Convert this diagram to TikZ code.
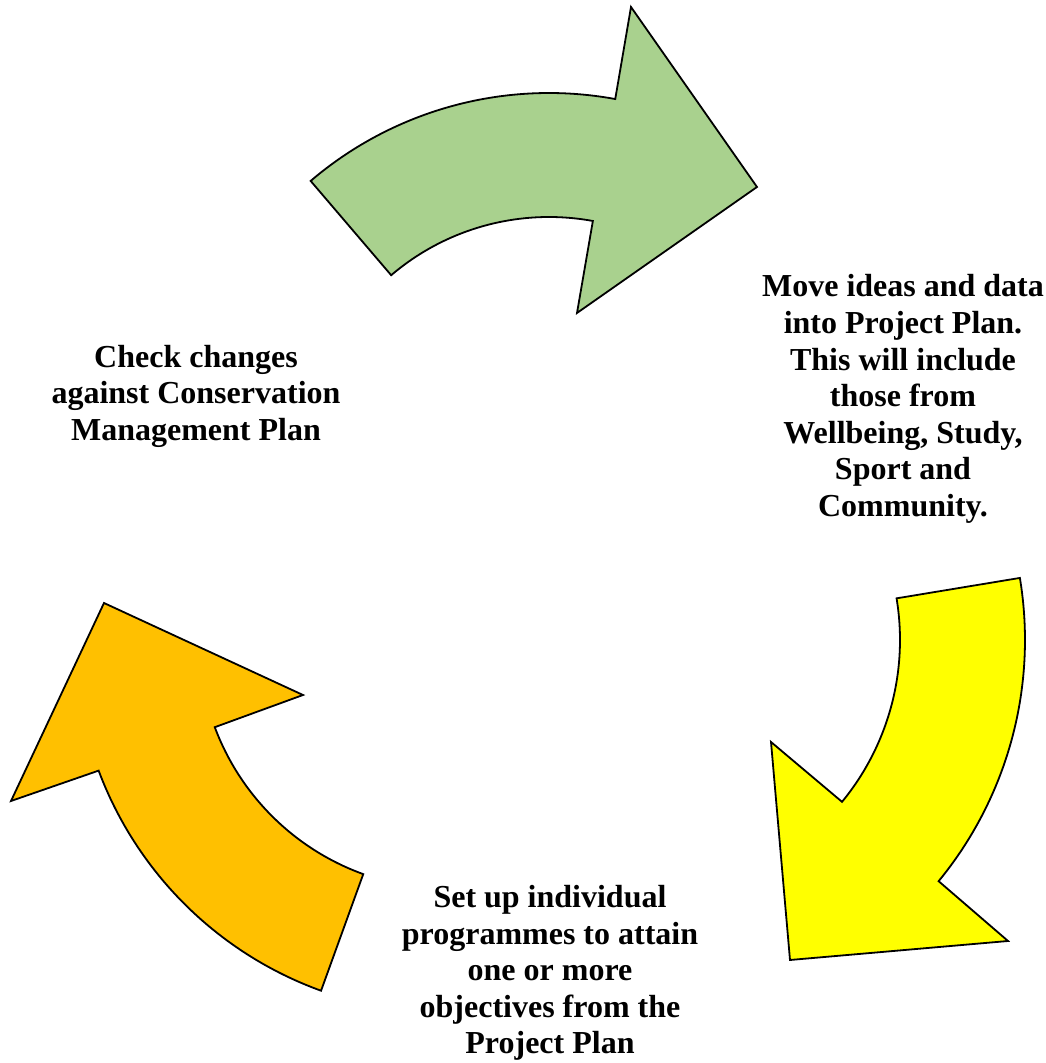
\documentclass[tikz,border=0pt]{standalone}
\usepackage{fontspec}
\setmainfont{Liberation Serif}
\definecolor{arrgreen}{HTML}{A9D18E}
\definecolor{arryellow}{HTML}{FFFF00}
\definecolor{arrorange}{HTML}{FFC000}
\begin{document}
\begin{tikzpicture}[x=1pt,y=1pt,
  arrowshape/.style={draw=black, line width=1.8pt, line join=miter},
  txt/.style={font=\fontsize{32}{36.6}\selectfont\bfseries, align=center, inner sep=0pt, anchor=north}]
\useasboundingbox (0,0) rectangle (1046,1063);
% centres of the three circular arrows
\coordinate (cg) at (549,603);
\coordinate (cy) at (645,423);
\coordinate (co) at (448,423);
% green arrow
\draw[arrowshape, fill=arrgreen] ([shift={(cg)}]130.5:367) arc[start angle=130.5, end angle=79.6, radius=367]
  -- (631,1056) -- (757,876) -- (577,750)
  -- ([shift={(cg)}]79.6:243) arc[start angle=79.6, end angle=130.5, radius=243] -- cycle;
% yellow arrow
\draw[arrowshape, fill=arryellow] ([shift={(cy)}]9.4:380) arc[start angle=9.4, end angle=-39.4, radius=380]
  -- (1008,122) -- (790,103) -- (771,321)
  -- ([shift={(cy)}]-39.4:255) arc[start angle=-39.4, end angle=9.4, radius=255] -- cycle;
% orange arrow
\draw[arrowshape, fill=arrorange] ([shift={(co)}]250.1:373) arc[start angle=250.1, end angle=200.5, radius=373]
  -- (11,262) -- (104,460) -- (303,368)
  -- ([shift={(co)}]200.5:249) arc[start angle=200.5, end angle=250.1, radius=249] -- cycle;
% texts
\node[txt] (move) at (903,788.5) {Move ideas and data\\into Project Plan.\\This will include\\those from\\Wellbeing, Study,\\Sport and\\Community.};
\node[txt] (check) at (196,718) {Check changes\\against Conservation\\Management Plan};
\node[txt] (setup) at (550,178) {Set up individual\\programmes to attain\\one or more\\objectives from the\\Project Plan};
\end{tikzpicture}
\end{document}
